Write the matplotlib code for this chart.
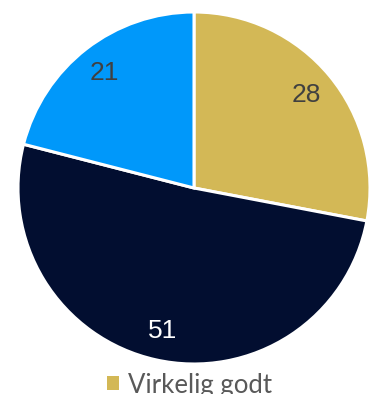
import matplotlib
matplotlib.use("Agg")
import matplotlib.pyplot as plt
from matplotlib.patches import Patch

categories = ["Virkelig godt", "Godt", "Mindre godt"]
values = [28, 51, 21]
colors = ["#D3B856", "#020E30", "#0098FA"]
label_colors = ["#404040", "#FFFFFF", "#404040"]

W, H = 372, 394
fig = plt.figure(figsize=(W / 100, H / 100), dpi=100)
cx, cy, r = 194, 188, 176
ax = fig.add_axes([(cx - r) / W, 1 - (cy + r) / H, 2 * r / W, 2 * r / H])
wedges, texts = ax.pie(values, colors=colors, startangle=90, counterclock=False,
                       labels=[str(v) for v in values], labeldistance=0.83,
                       wedgeprops=dict(edgecolor="white", linewidth=2.2),
                       textprops=dict(fontsize=19, family=["Liberation Sans", "DejaVu Sans"]))
for t, c in zip(texts, label_colors):
    t.set_color(c)
    t.set_ha("center")
    t.set_va("center")
ax.set_xlim(-1, 1)
ax.set_ylim(-1, 1)
ax.set_aspect("equal")
ax.axis("off")

handles = [Patch(facecolor=colors[0], edgecolor="none")]
fig.legend(handles, [categories[0]], loc="center", bbox_to_anchor=(0.51, 1 - 385 / H),
           frameon=False, handlelength=0.45, handleheight=0.45,
           handletextpad=0.35, labelcolor="#595959",
           prop=dict(family=["Lato", "DejaVu Sans"], size=18.5))

fig.savefig("out.png", dpi=100)
